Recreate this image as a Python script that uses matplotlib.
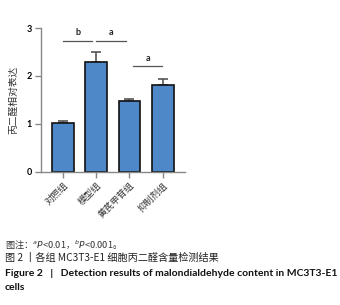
import numpy as np
import matplotlib.pyplot as plt

plt.rcParams['font.family'] = ['Noto Sans CJK SC', 'DejaVu Sans']

groups = ['对照组', '模型组', '黄芪甲苷组', '抑制剂组']
mda_rel = [1.02, 2.30, 1.47, 1.81]
mda_err = [0.03, 0.21, 0.05, 0.12]

# significance brackets: (x start, x end, height, letter)
sig_pairs = [(0.0, 0.87, 2.74, 'b'), (1.0, 1.89, 2.74, 'a'), (2.1, 2.99, 2.20, 'a')]

fig = plt.figure(figsize=(3.4, 3.05), dpi=100)
ax = fig.add_axes([0.12, 0.437, 0.424, 0.471])

x = np.arange(len(groups))
ax.bar(x, mda_rel, width=0.65, color='#4f88c8', edgecolor='#111111', linewidth=1.2, zorder=2)
ax.errorbar(x, mda_rel, yerr=[np.zeros(len(mda_err)), mda_err], fmt='none',
            ecolor='#555555', elinewidth=1.2, capsize=3.5, capthick=1.2, zorder=1)

for x0, x1, h, lab in sig_pairs:
    ax.plot([x0, x1], [h, h], color='#555555', lw=0.9)
    ax.text((x0 + x1) / 2, h + 0.08, lab, ha='center', va='bottom', fontsize=6.5,
            family=['Lato', 'DejaVu Sans'], fontweight='bold', color='#222222')

ax.set_xlim(-0.67, 3.67)
ax.set_ylim(0, 3)
ax.set_yticks([0, 1, 2, 3])
ax.set_yticklabels(['0', '1', '2', '3'], family=['Lato', 'DejaVu Sans'], fontweight='bold')
ax.set_xticks(x)
ax.set_xticklabels(groups, rotation=45, ha='right', rotation_mode='anchor', fontsize=6.7, color='#333333')
ax.tick_params(axis='y', length=4.5, width=1, color='#888888', labelsize=6.5, pad=2)
ax.tick_params(axis='x', length=4.5, width=1, color='#888888', pad=2)
for s in ['top', 'right']:
    ax.spines[s].set_visible(False)
for s in ['left', 'bottom']:
    ax.spines[s].set_color('#888888')
    ax.spines[s].set_linewidth(1)
ax.set_ylabel('丙二醛相对表达', fontsize=7, color='#333333', labelpad=6)

fig.text(0.015, 1 - 244.5 / 305, '图注：$^{a}$$P$<0.01，$^{b}$$P$<0.001。', fontsize=6.6,
         va='center', color='#333333')
fig.text(0.015, 1 - 257.5 / 305, '图 2 丨各组 MC3T3-E1 细胞丙二醛含量检测结果', fontsize=7.3,
         va='center', color='#222222')
fig.text(0.015, 1 - 273 / 305, 'Figure 2   |   Detection results of malondialdehyde content in MC3T3-E1',
         fontsize=7.5, va='center', fontweight='bold', family=['Lato', 'DejaVu Sans'], color='#111111')
fig.text(0.015, 1 - 287.5 / 305, 'cells', fontsize=7.5, va='center', fontweight='bold',
         family=['Lato', 'DejaVu Sans'], color='#111111')

fig.savefig('out.png', dpi=100)
